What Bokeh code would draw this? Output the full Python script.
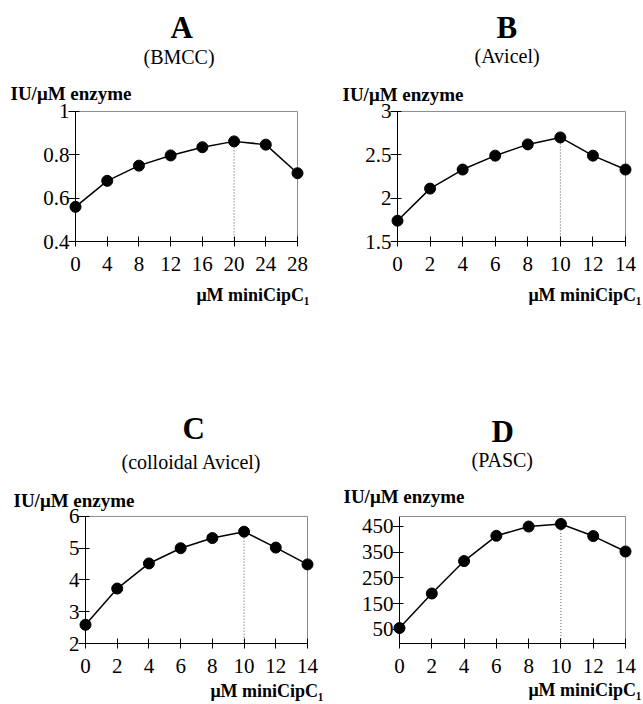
from bokeh.plotting import figure
from bokeh.layouts import column, row
from bokeh.models import Range1d, FixedTicker, Title
from bokeh.embed import file_html
from bokeh.resources import INLINE

FONT = "Liberation Serif"

# ---------------- data ----------------
a_x = [0, 4, 8, 12, 16, 20, 24, 28]
a_y = [0.56, 0.68, 0.75, 0.797, 0.835, 0.862, 0.847, 0.715]
a_xticks = [0, 4, 8, 12, 16, 20, 24, 28]
a_yticks = [0.4, 0.6, 0.8, 1.0]
a_ylabels = ["0.4", "0.6", "0.8", "1"]

b_x = [0, 2, 4, 6, 8, 10, 12, 14]
b_y = [1.74, 2.11, 2.33, 2.49, 2.62, 2.70, 2.49, 2.33]
b_xticks = [0, 2, 4, 6, 8, 10, 12, 14]
b_yticks = [1.5, 2.0, 2.5, 3.0]
b_ylabels = ["1.5", "2", "2.5", "3"]

c_x = [0, 2, 4, 6, 8, 10, 12, 14]
c_y = [2.59, 3.73, 4.52, 5.0, 5.32, 5.52, 5.02, 4.49]
c_xticks = [0, 2, 4, 6, 8, 10, 12, 14]
c_yticks = [2, 3, 4, 5, 6]
c_ylabels = ["2", "3", "4", "5", "6"]

d_x = [0, 2, 4, 6, 8, 10, 12, 14]
d_y = [55, 189, 315, 413, 449, 459, 412, 352]
d_xticks = [0, 2, 4, 6, 8, 10, 12, 14]
d_yticks = [50, 150, 250, 350, 450]
d_ylabels = ["50", "150", "250", "350", "450"]

titles = ["A", "B", "C", "D"]
subtitles = ["(BMCC)", "(Avicel)", "(colloidal Avicel)", "(PASC)"]
ylabel_text = "IU/\u03bcM enzyme"
xlabel_text = "\u03bcM miniCipC\u2081"

# ---------------- styling / layout constants ----------------
PADX = 7          # px of room so edge markers are not clipped
PADT = 2
F_TITLE, F_SUB, F_YLAB, F_XLAB, F_TICK = 31, 20, 19, 18, 21
HF, DF = 0.98, 0.21   # approx font height / descent factors used by the layout
X_TICK_OUT, X_STANDOFF = 5, 10

# approximate Times advance widths (em) for centring left-aligned titles
W_REG = {"(": .333, ")": .333, "B": .667, "M": .889, "C": .667, "A": .722, "v": .5,
         "i": .278, "c": .444, "e": .444, "l": .278, "o": .5, "d": .5, "a": .444,
         " ": .25, "P": .556, "S": .556}
W_BOLD = {"A": .722, "B": .667, "C": .722, "D": .722}


def text_w(s, f, table):
    return sum(table.get(ch, .5) for ch in s) * f


def panel(xs, ys, xticks, yticks, ylabels, xd, yd, title, sub,
          fig_x, fig_y, width, height, box, tpos):
    bl, bt, br, bb = box
    ppx = (br - bl) / (xd[1] - xd[0])
    ppy = (bb - bt) / (yd[1] - yd[0])
    xr = (xd[0] - PADX / ppx, xd[1] + PADX / ppx)
    yr = (yd[0], yd[1] + PADT / ppy)
    fl, fr, ft, fb = bl - PADX, br + PADX, bt - PADT, bb
    p = figure(width=width, height=height, output_backend="svg",
               toolbar_location=None, x_range=Range1d(*xr), y_range=Range1d(*yr),
               min_border_left=fl - fig_x, min_border_right=fig_x + width - fr,
               min_border_top=ft - fig_y, min_border_bottom=fig_y + height - fb)
    p.title = None
    p.xgrid.visible = False
    p.ygrid.visible = False
    p.outline_line_color = None
    p.background_fill_color = "white"
    p.border_fill_color = "white"

    for ax in (p.xaxis[0], p.yaxis[0]):
        ax.major_tick_line_color = "black"
        ax.minor_tick_line_color = None
        ax.major_label_text_font = FONT
        ax.major_label_text_font_size = f"{F_TICK}px"
        ax.major_label_text_color = "black"
    p.xaxis.axis_line_color = "black"
    p.xaxis.ticker = FixedTicker(ticks=xticks)
    p.xaxis.bounds = xd
    p.xaxis.major_label_overrides = {t: str(t) for t in xticks}
    p.xaxis.major_tick_in = 5
    p.xaxis.major_tick_out = X_TICK_OUT
    p.xaxis.major_label_standoff = X_STANDOFF
    # y axis sits at the frame edge; its ticks reach across the x=0 line
    p.yaxis.axis_line_color = None
    p.yaxis.ticker = FixedTicker(ticks=yticks)
    p.yaxis.major_label_overrides = dict(zip(yticks, ylabels))
    p.yaxis.major_tick_in = PADX + 4
    p.yaxis.major_tick_out = 0
    p.yaxis.major_label_standoff = -1

    # y axis line at x = 0 and light frame on top and right
    p.segment(x0=[xd[0]], y0=[yd[0]], x1=[xd[0]], y1=[yd[1]],
              line_color="black", line_width=1)
    p.segment(x0=[xd[0], xd[1]], y0=[yd[1], yd[0]], x1=[xd[1], xd[1]], y1=[yd[1], yd[1]],
              line_color="#8a8a8a", line_width=1)
    # dotted drop line at the maximum
    i = max(range(len(ys)), key=lambda k: ys[k])
    p.segment(x0=[xs[i]], y0=[ys[i]], x1=[xs[i]], y1=[yd[0]],
              line_color="#555555", line_width=1, line_dash="1 2")
    p.line(xs, ys, line_color="black", line_width=1.5)
    p.scatter(xs, ys, size=11, fill_color="black", line_color="black")

    tcx, scx, tb, sb, ylx, yb, xrx, xb = tpos
    # stacked titles above the frame (nearest first)
    s1 = round(2 * (ft - DF * F_YLAB - yb))
    b2 = ft - (2 + HF * F_YLAB + s1)
    s2 = round(2 * (b2 - DF * F_SUB - sb))
    b3 = b2 - (2 + HF * F_SUB + s2)
    s3 = round(2 * (b3 - DF * F_TITLE - tb))
    p.add_layout(Title(text=ylabel_text, align="left", offset=ylx - fl,
                       text_font=FONT, text_font_size=f"{F_YLAB}px", text_font_style="bold",
                       standoff=s1, text_color="black"), "above")
    p.add_layout(Title(text=sub, align="left",
                       offset=round(scx - text_w(sub, F_SUB, W_REG) / 2 - fl),
                       text_font=FONT, text_font_size=f"{F_SUB}px", text_font_style="normal",
                       standoff=s2, text_color="black"), "above")
    p.add_layout(Title(text=title, align="left",
                       offset=round(tcx - text_w(title, F_TITLE, W_BOLD) / 2 - fl),
                       text_font=FONT, text_font_size=f"{F_TITLE}px", text_font_style="bold",
                       standoff=s3, text_color="black"), "above")
    # x label below the axis
    axis_bottom = fb + X_TICK_OUT + X_STANDOFF + HF * F_TICK
    s4 = round(2 * (xb - axis_bottom - 2 - HF * F_XLAB + DF * F_XLAB))
    p.add_layout(Title(text=xlabel_text, align="right", offset=fr - xrx,
                       text_font=FONT, text_font_size=f"{F_XLAB}px", text_font_style="bold",
                       standoff=s4, text_color="black"), "below")
    return p


pa = panel(a_x, a_y, a_xticks, a_yticks, a_ylabels, (0, 28), (0.4, 1.0),
           titles[0], subtitles[0], 0, 0, 325, 352, (75, 109, 297, 241),
           (181, 178.5, 41, 63, 10, 97, 309, 302))
pb = panel(b_x, b_y, b_xticks, b_yticks, b_ylabels, (0, 14), (1.5, 3.0),
           titles[1], subtitles[1], 325, 0, 318, 352, (397, 111, 625, 244),
           (506, 507, 43, 64, 342, 100, 641, 305))
pc = panel(c_x, c_y, c_xticks, c_yticks, c_ylabels, (0, 14), (2, 6),
           titles[2], subtitles[2], 0, 352, 325, 352, (85, 512, 307, 643),
           (193, 192, 440, 466, 13, 502, 323, 698))
pd = panel(d_x, d_y, d_xticks, d_yticks, d_ylabels, (0, 14), (-5, 488),
           titles[3], subtitles[3], 325, 352, 318, 352, (399, 516, 625, 645),
           (502, 503, 447, 468, 343, 502, 641, 699))

layout = column(row(pa, pb), row(pc, pd))
open("out.html", "w").write(file_html(layout, INLINE))
